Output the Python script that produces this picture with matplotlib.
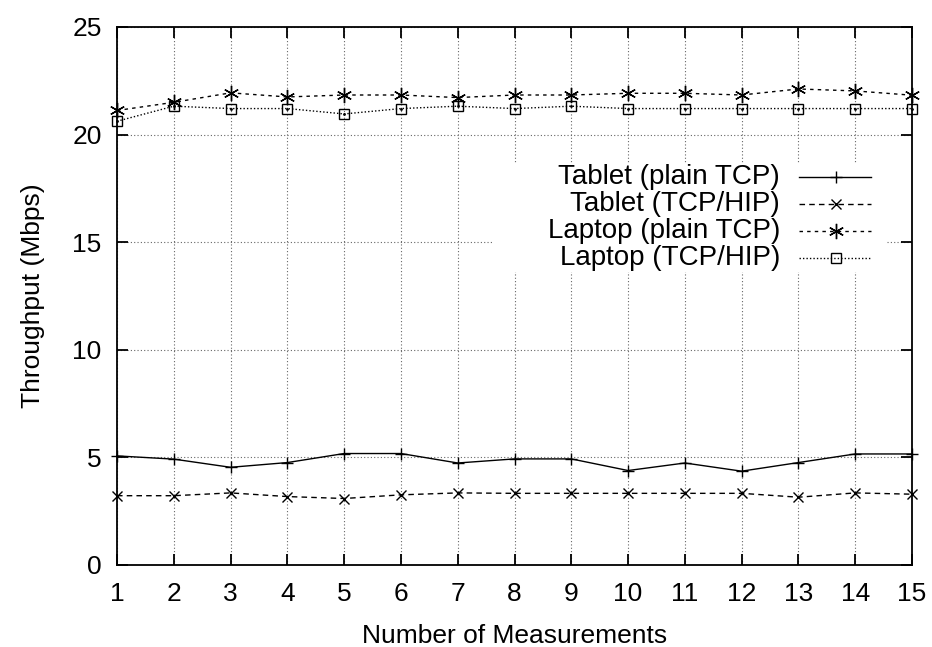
import matplotlib
matplotlib.use('Agg')
import matplotlib.pyplot as plt
from matplotlib.patches import Rectangle
from matplotlib.lines import Line2D

plt.rcParams['font.family'] = ['Liberation Sans', 'DejaVu Sans']

# throughput per run (Mbps)
runs = list(range(1, 16))
tablet_tcp = [5.07, 4.92, 4.54, 4.76, 5.18, 5.18, 4.74, 4.93, 4.93, 4.39, 4.74, 4.36, 4.76, 5.16, 5.16]
tablet_hip = [3.22, 3.22, 3.35, 3.18, 3.09, 3.26, 3.35, 3.33, 3.33, 3.33, 3.33, 3.33, 3.15, 3.35, 3.29]
laptop_tcp = [21.12, 21.50, 21.94, 21.75, 21.84, 21.84, 21.72, 21.84, 21.84, 21.92, 21.92, 21.84, 22.12, 22.03, 21.83]
laptop_hip = [20.62, 21.32, 21.21, 21.21, 20.96, 21.21, 21.32, 21.21, 21.32, 21.21, 21.21, 21.21, 21.21, 21.21, 21.21]
etiquetas = ['Tablet (plain TCP)', 'Tablet (TCP/HIP)', 'Laptop (plain TCP)', 'Laptop (TCP/HIP)']

fs = 19
fig = plt.figure(figsize=(9.32, 6.47), dpi=100)
ax = fig.add_axes([117/932, 82/647, 795/932, 538/647])

asterisco = (6, 2, 0)
estilos = [
    dict(ls='-', marker='+', ms=9, mew=1.0),
    dict(ls=(0, (4, 3)), marker='x', ms=7, mew=1.0),
    dict(ls=(0, (2.5, 3)), marker=asterisco, ms=11, mew=1.0),
    dict(ls=(0, (1, 1.5)), marker='s', ms=7, mew=1.0, mfc='none'),
]
series = [tablet_tcp, tablet_hip, laptop_tcp, laptop_hip]

for datos, est in zip(series, estilos):
    ax.plot(runs, datos, color='black', lw=1.0, mec='black', clip_on=False, zorder=3, **est)

# puntito dentro de los cuadrados
ax.plot(runs, laptop_hip, ls='none', marker='.', ms=2, color='black', clip_on=False, zorder=4)

ax.set_xlim(1, 15)
ax.set_ylim(0, 25)
ax.set_xticks(runs)
ax.set_yticks([0, 5, 10, 15, 20, 25])
ax.grid(True, color='0.4', ls=(0, (1, 2)), lw=0.8)
ax.set_axisbelow(True)
for s in ax.spines.values():
    s.set_linewidth(1.3)
ax.tick_params(direction='in', length=8, width=1.3, top=True, right=True,
               labelsize=fs)
ax.tick_params(axis='x', pad=12)
ax.tick_params(axis='y', pad=11)
ax.set_xlabel('Number of Measurements', fontsize=fs, labelpad=13)
ax.set_ylabel('Throughput (Mbps)', fontsize=fs, labelpad=20)

# leyenda a mano: texto a la izquierda, muestra a la derecha
ax.add_patch(Rectangle((0.473, 0.545), 0.496, 0.202, transform=ax.transAxes,
                       facecolor='white', edgecolor='none', zorder=1.5))
filas = [0.721, 0.671, 0.621, 0.571]
for nombre, est, yy in zip(etiquetas, estilos, filas):
    ax.text(0.834, yy, nombre, transform=ax.transAxes, ha='right', va='center',
            fontsize=20, zorder=5)
    linea = Line2D([0.858, 0.948], [yy, yy], transform=ax.transAxes, color='black',
                   lw=1.0, ls=est['ls'], zorder=5)
    ax.add_line(linea)
    marca = Line2D([0.904], [yy], transform=ax.transAxes, color='black', ls='none',
                   marker=est['marker'], ms=est['ms'], mew=est['mew'],
                   mfc=est.get('mfc', 'black'), mec='black', zorder=5)
    ax.add_line(marca)

fig.savefig('out.png', dpi=100)
